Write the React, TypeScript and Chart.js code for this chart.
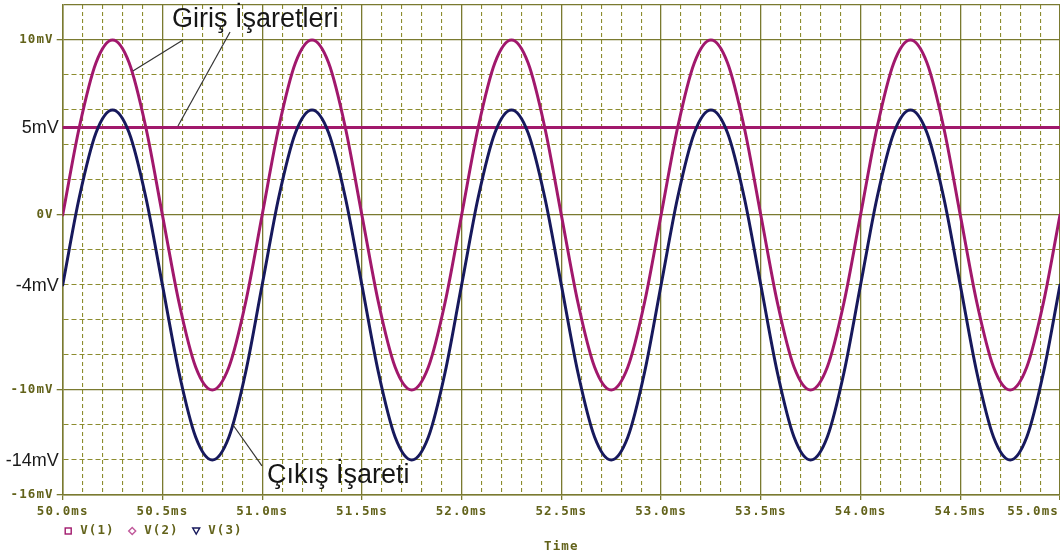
import { useEffect, useRef } from 'react';
import { Chart, registerables } from 'chart.js';

Chart.register(...registerables);

// Sample instants in milliseconds (12 samples per 1 ms cycle)
const timeMs = [
  50.0, 50.083, 50.167, 50.25, 50.333, 50.417, 50.5, 50.583, 50.667, 50.75, 50.833, 50.917,
  51.0, 51.083, 51.167, 51.25, 51.333, 51.417, 51.5, 51.583, 51.667, 51.75, 51.833, 51.917,
  52.0, 52.083, 52.167, 52.25, 52.333, 52.417, 52.5, 52.583, 52.667, 52.75, 52.833, 52.917,
  53.0, 53.083, 53.167, 53.25, 53.333, 53.417, 53.5, 53.583, 53.667, 53.75, 53.833, 53.917,
  54.0, 54.083, 54.167, 54.25, 54.333, 54.417, 54.5, 54.583, 54.667, 54.75, 54.833, 54.917,
  55.0,
];

// V(1): input sine, mV
const v1 = [
  0, 5.0, 8.7, 10.0, 8.7, 5.0, 0, -5.0, -8.7, -10.0, -8.7, -5.0,
  0, 5.0, 8.7, 10.0, 8.7, 5.0, 0, -5.0, -8.7, -10.0, -8.7, -5.0,
  0, 5.0, 8.7, 10.0, 8.7, 5.0, 0, -5.0, -8.7, -10.0, -8.7, -5.0,
  0, 5.0, 8.7, 10.0, 8.7, 5.0, 0, -5.0, -8.7, -10.0, -8.7, -5.0,
  0, 5.0, 8.7, 10.0, 8.7, 5.0, 0, -5.0, -8.7, -10.0, -8.7, -5.0,
  0,
];

// V(2): DC level, mV
const v2Time = [50.0, 55.0];
const v2 = [5.0, 5.0];

// V(3): output, mV
const v3 = [
  -4.0, 1.0, 4.7, 6.0, 4.7, 1.0, -4.0, -9.0, -12.7, -14.0, -12.7, -9.0,
  -4.0, 1.0, 4.7, 6.0, 4.7, 1.0, -4.0, -9.0, -12.7, -14.0, -12.7, -9.0,
  -4.0, 1.0, 4.7, 6.0, 4.7, 1.0, -4.0, -9.0, -12.7, -14.0, -12.7, -9.0,
  -4.0, 1.0, 4.7, 6.0, 4.7, 1.0, -4.0, -9.0, -12.7, -14.0, -12.7, -9.0,
  -4.0, 1.0, 4.7, 6.0, 4.7, 1.0, -4.0, -9.0, -12.7, -14.0, -12.7, -9.0,
  -4.0,
];

// Axis labels
const xLabelValues = [50, 50.5, 51, 51.5, 52, 52.5, 53, 53.5, 54, 54.5, 55];
const xLabelTexts = ['50.0ms', '50.5ms', '51.0ms', '51.5ms', '52.0ms', '52.5ms', '53.0ms', '53.5ms', '54.0ms', '54.5ms', '55.0ms'];
const yScopeLabelValues = [10, 0, -10, -16];
const yScopeLabelTexts = ['10mV', '0V', '-10mV', '-16mV'];
const yNoteLabelValues = [5, -4, -14];
const yNoteLabelTexts = ['5mV', '-4mV', '-14mV'];
const legendNames = ['V(1)', 'V(2)', 'V(3)'];
const xAxisTitle = 'Time';

// Callouts: text start (ms, mV at baseline) and leader lines (ms, mV -> ms, mV)
const calloutTexts = ['Giriş İşaretleri', 'Çıkış İşareti'];
const calloutAnchors = [
  [50.548, 10.74],
  [51.024, -15.31],
];
const leaderLines = [
  [50.603, 10.0, 50.352, 8.23],
  [50.839, 10.46, 50.578, 5.09],
  [50.854, -12.0, 50.999, -14.34],
];

const MAGENTA = '#a1186c';
const MAGENTA_LIGHT = '#c0589a';
const NAVY = '#17195c';
const OLIVE_TEXT = '#62621a';
const GRID_MAJOR = '#7a7a30';
const GRID_MINOR = '#8c8c2e';
const SCOPE_FONT = 'bold 12.5px "DejaVu Sans Mono"';

const isMajorX = (v: number) => Math.abs(v * 2 - Math.round(v * 2)) < 1e-6;
const isMajorY = (v: number) => v === 10 || v === 0 || v === -10 || v === -16 || v === 12;
const hasTickY = (v: number) => v === 10 || v === 0 || v === -10 || v === -16;

const overlayPlugin = {
  id: 'scopeOverlay',
  afterDraw(chart: any) {
    const { ctx, chartArea: area } = chart;
    const x = chart.scales.x;
    const y = chart.scales.y;
    ctx.save();

    // x tick labels
    ctx.font = SCOPE_FONT;
    (ctx as any).letterSpacing = '1.1px';
    ctx.fillStyle = OLIVE_TEXT;
    ctx.textBaseline = 'middle';
    ctx.textAlign = 'left';
    xLabelValues.forEach((v, i) => {
      const text = xLabelTexts[i];
      const w = ctx.measureText(text).width;
      let left = x.getPixelForValue(v) - w / 2;
      if (left + w > chart.width - 1) left = chart.width - 1 - w;
      ctx.fillText(text, left, area.bottom + 17);
    });

    // y tick labels (scope font)
    yScopeLabelValues.forEach((v, i) => {
      const text = yScopeLabelTexts[i];
      const w = ctx.measureText(text).width;
      ctx.fillText(text, area.left - 9 - w, y.getPixelForValue(v));
    });

    // legend
    const ly = area.bottom + 36;
    legendNames.forEach((name, i) => {
      const mx = area.left + 5.5 + i * 64;
      ctx.lineWidth = 1.4;
      if (i === 0) {
        ctx.strokeStyle = MAGENTA;
        ctx.strokeRect(mx - 3, ly - 3, 6, 6);
      } else if (i === 1) {
        ctx.strokeStyle = MAGENTA_LIGHT;
        ctx.beginPath();
        ctx.moveTo(mx, ly - 3.5);
        ctx.lineTo(mx + 3.5, ly);
        ctx.lineTo(mx, ly + 3.5);
        ctx.lineTo(mx - 3.5, ly);
        ctx.closePath();
        ctx.stroke();
      } else {
        ctx.strokeStyle = NAVY;
        ctx.beginPath();
        ctx.moveTo(mx - 3.5, ly - 3);
        ctx.lineTo(mx + 3.5, ly - 3);
        ctx.lineTo(mx, ly + 3);
        ctx.closePath();
        ctx.stroke();
      }
      ctx.fillStyle = OLIVE_TEXT;
      ctx.fillText(name, mx + 12, ly);
    });

    // axis title
    const tw = ctx.measureText(xAxisTitle).width;
    ctx.fillText(xAxisTitle, (area.left + area.right) / 2 - tw / 2, area.bottom + 52);

    // y labels (annotation font)
    (ctx as any).letterSpacing = '0px';
    ctx.font = '18px "Liberation Sans"';
    ctx.fillStyle = '#1a1a1a';
    ctx.textAlign = 'right';
    yNoteLabelValues.forEach((v, i) => {
      ctx.fillText(yNoteLabelTexts[i], area.left - 4, y.getPixelForValue(v) + 1);
    });

    // leader lines
    ctx.strokeStyle = '#333333';
    ctx.lineWidth = 1.2;
    leaderLines.forEach(([x0, y0, x1, y1]) => {
      ctx.beginPath();
      ctx.moveTo(x.getPixelForValue(x0), y.getPixelForValue(y0));
      ctx.lineTo(x.getPixelForValue(x1), y.getPixelForValue(y1));
      ctx.stroke();
    });

    // callout texts
    ctx.font = '27px "Liberation Sans"';
    ctx.fillStyle = '#161616';
    ctx.textAlign = 'left';
    ctx.textBaseline = 'alphabetic';
    calloutTexts.forEach((text, i) => {
      const [cx, cy] = calloutAnchors[i];
      ctx.fillText(text, x.getPixelForValue(cx), y.getPixelForValue(cy));
    });

    ctx.restore();
  },
};

export default function App() {
  const canvasRef = useRef<HTMLCanvasElement>(null);

  useEffect(() => {
    document.body.style.margin = '0';
    const lineBase = {
      borderWidth: 3,
      pointRadius: 0,
      fill: false,
      borderJoinStyle: 'round' as const,
      borderCapStyle: 'round' as const,
    };
    const chart = new Chart(canvasRef.current as HTMLCanvasElement, {
      type: 'line',
      data: {
        datasets: [
          {
            ...lineBase,
            label: legendNames[0],
            data: timeMs.map((t, i) => ({ x: t, y: v1[i] })),
            borderColor: MAGENTA,
            cubicInterpolationMode: 'monotone',
            order: 3,
          },
          {
            ...lineBase,
            label: legendNames[1],
            data: v2Time.map((t, i) => ({ x: t, y: v2[i] })),
            borderColor: MAGENTA,
            order: 2,
          },
          {
            ...lineBase,
            label: legendNames[2],
            data: timeMs.map((t, i) => ({ x: t, y: v3[i] })),
            borderColor: NAVY,
            cubicInterpolationMode: 'monotone',
            order: 1,
          },
        ],
      },
      options: {
        responsive: false,
        animation: false,
        events: [],
        layout: { padding: { top: 5, right: 0, left: 0, bottom: 0 } },
        plugins: { legend: { display: false }, tooltip: { enabled: false } },
        scales: {
          x: {
            type: 'linear',
            min: 50,
            max: 55,
            afterFit: (s: any) => {
              s.height = 64;
              s.paddingLeft = 0;
              s.paddingRight = 0;
            },
            ticks: { stepSize: 0.1, display: false, autoSkip: false },
            grid: {
              drawTicks: true,
              tickLength: 5,
              color: (c: any) => (isMajorX(c.tick.value) ? GRID_MAJOR : GRID_MINOR),
              lineWidth: (c: any) => (isMajorX(c.tick.value) ? 1.3 : 1.1),
              tickColor: (c: any) => (isMajorX(c.tick.value) ? GRID_MAJOR : 'rgba(0,0,0,0)'),
              tickWidth: 1.3,
            },
            border: {
              color: GRID_MAJOR,
              width: 1.5,
              dash: (c: any) => (c.tick && !isMajorX(c.tick.value) ? [4, 3] : []),
            },
          },
          y: {
            type: 'linear',
            min: -16,
            max: 12,
            afterFit: (s: any) => {
              s.width = 62.7;
              s.paddingTop = 0;
              s.paddingBottom = 0;
            },
            ticks: { stepSize: 2, display: false, autoSkip: false },
            grid: {
              drawTicks: true,
              tickLength: 6,
              color: (c: any) => (isMajorY(c.tick.value) ? GRID_MAJOR : GRID_MINOR),
              lineWidth: (c: any) => (isMajorY(c.tick.value) ? 1.3 : 1.1),
              tickColor: (c: any) => (hasTickY(c.tick.value) ? GRID_MAJOR : 'rgba(0,0,0,0)'),
              tickWidth: 1.3,
            },
            border: {
              color: GRID_MAJOR,
              width: 1.5,
              dash: (c: any) => (c.tick && !isMajorY(c.tick.value) ? [5, 3] : []),
            },
          },
        },
      },
      plugins: [overlayPlugin],
    });
    return () => chart.destroy();
  }, []);

  return (
    <div style={{ position: 'absolute', left: 0, top: 0, width: 1060, height: 559, background: '#ffffff' }}>
      <canvas ref={canvasRef} width={1060} height={559} style={{ display: 'block' }} />
    </div>
  );
}
